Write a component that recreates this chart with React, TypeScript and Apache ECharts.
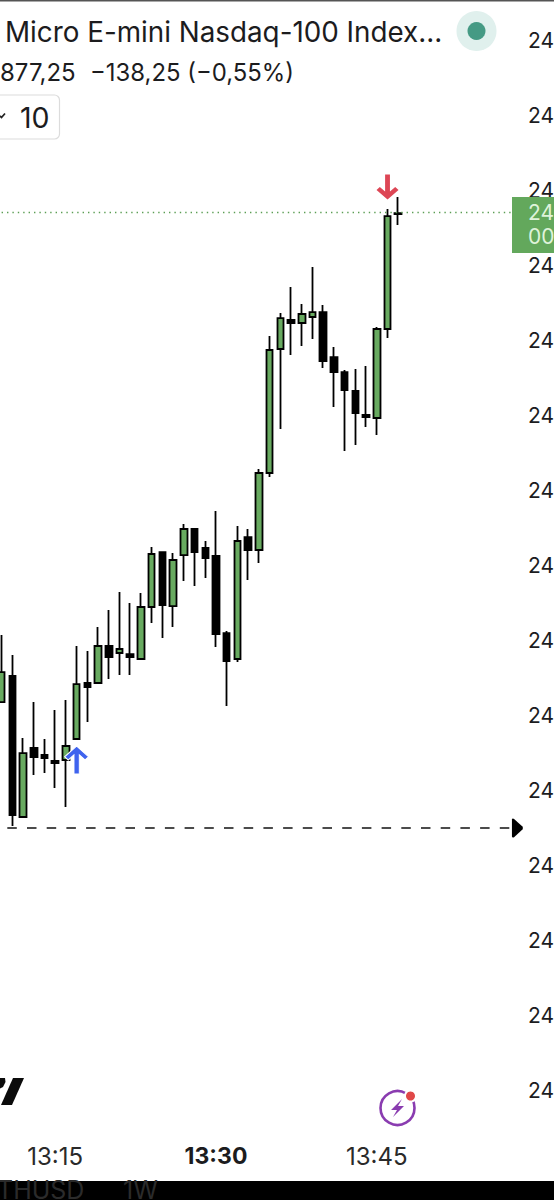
import React, { useEffect, useRef } from "react";
import * as echarts from "echarts";

const candleTimes = ["13:10","13:11","13:12","13:13","13:14","13:15","13:16","13:17","13:18","13:19","13:20","13:21","13:22","13:23","13:24","13:25","13:26","13:27","13:28","13:29","13:30","13:31","13:32","13:33","13:34","13:35","13:36","13:37","13:38","13:39","13:40","13:41","13:42","13:43","13:44","13:45","13:46","13:47"];
const futureTimes = ["13:48","13:49","13:50","13:51","13:52","13:53","13:54","13:55","13:56","13:57","13:58","13:59"];
const shownTimes = ["13:15","13:30","13:45"];
const opens = [24811.73,24815.20,24796.40,24805.60,24804.67,24803.87,24804.00,24806.80,24814.27,24814.27,24819.20,24818.27,24818.13,24817.47,24824.40,24831.73,24824.53,24831.33,24834.80,24832.27,24831.20,24820.93,24817.47,24833.73,24832.00,24842.27,24858.80,24862.67,24862.27,24863.07,24863.73,24857.73,24855.73,24853.20,24850.00,24849.60,24861.47,24876.93];
const closes = [24815.73,24796.67,24804.93,24804.40,24804.27,24803.60,24805.87,24814.13,24813.73,24819.20,24817.73,24818.80,24817.73,24824.40,24831.47,24824.67,24830.67,24834.80,24831.73,24830.93,24820.80,24817.20,24833.20,24832.00,24842.27,24858.67,24862.93,24862.27,24863.47,24863.73,24857.20,24855.73,24853.33,24850.27,24849.73,24861.47,24876.53,24876.80];
const lows = [24811.73,24795.20,24796.40,24802.00,24802.27,24800.27,24797.73,24806.80,24809.07,24814.27,24814.80,24815.33,24815.33,24817.47,24822.27,24820.27,24821.73,24827.87,24827.20,24828.27,24819.07,24811.20,24817.07,24828.00,24830.27,24841.73,24848.13,24858.00,24859.20,24860.13,24856.27,24851.07,24845.20,24846.00,24848.40,24847.33,24860.27,24875.33];
const highs = [24820.67,24818.00,24806.93,24811.73,24806.80,24810.67,24812.00,24819.20,24818.53,24821.73,24824.00,24826.40,24824.93,24826.27,24832.40,24831.73,24831.60,24835.47,24834.80,24833.20,24837.20,24821.20,24835.20,24834.80,24842.80,24860.53,24863.60,24867.07,24864.80,24869.73,24864.67,24859.07,24856.00,24856.13,24856.53,24861.73,24877.47,24879.07];
const lastPrice = 24877.07;
const stopPrice = 24794.93;
const sellSignal = { time: "13:46", price: 24880.4 };
const buySignal = { time: "13:17", price: 24804.0 };

const titleText = "Micro E-mini Nasdaq-100 Index...";
const priceText = "877,25";
const changeText = "\u2212138,25 (\u22120,55%)";
const contractsText = "10";

const FONT = "Inter, sans-serif";
const GREEN = "#68aa60";
const ARROW_UP = "path://M10 0 L20 10 L17 13 L12.2 8.2 L12.2 26 L7.8 26 L7.8 8.2 L3 13 L0 10 Z";
const HEAD = "path://M0 1 Q0 0 1 0 Q1.5 0 2 .4 L10 8 Q11 9.5 10 11 L2 18.6 Q1.5 19 1 19 Q0 19 0 18 Z";

export default function App() {
  const ref = useRef<HTMLDivElement>(null);
  useEffect(() => {
    const chart = echarts.init(ref.current!, null, { renderer: "svg" });
    const categories = [...candleTimes, ...futureTimes];
    const label = (x: number, y: number, text: string, fontSize: number, fill = "#1c1c1e") => ({
      type: "text", x, y, z: 50,
      style: { text, fill, font: `normal ${fontSize}px ${FONT}`, verticalAlign: "middle", align: "left" },
    });
    chart.setOption({
      animation: false,
      backgroundColor: "#ffffff",
      grid: { left: 1.6, right: 27.12, top: 40, bottom: 110, containLabel: false, outerBoundsMode: "none" },
      xAxis: {
        type: "category",
        data: categories,
        boundaryGap: false,
        axisLine: { show: false },
        axisTick: { show: false },
        splitLine: { show: false },
        axisLabel: {
          margin: 54,
          interval: (_: number, v: string) => shownTimes.includes(v),
          fontFamily: FONT,
          fontSize: 24,
          color: "#2a2a2a",
          formatter: (v: string) => (v === "13:30" ? `{b|${v}}` : v),
          rich: { b: { fontWeight: "bold", fontSize: 23, color: "#1c1c1e", fontFamily: FONT } },
        },
      },
      yAxis: {
        type: "value",
        position: "right",
        min: 24760,
        max: 24900,
        interval: 10,
        axisLine: { show: false },
        axisTick: { show: false },
        splitLine: { show: false },
        axisLabel: {
          margin: 1.1,
          fontFamily: FONT,
          fontSize: 21,
          color: "#1c1c1e",
          showMinLabel: true,
          showMaxLabel: true,
          formatter: (v: number) => String(v).slice(0, 2),
        },
      },
      series: [
        {
          type: "candlestick",
          clip: false,
          barWidth: 7,
          itemStyle: {
            color: GREEN,
            color0: "#000000",
            borderColor: "#000000",
            borderColor0: "#000000",
            borderWidth: 1.8,
          },
          data: candleTimes.map((_, i) => [opens[i], closes[i], lows[i], highs[i]]),
          markLine: {
            silent: true,
            symbol: "none",
            label: { show: false },
            animation: false,
            data: [
              [
                { xAxis: candleTimes[0], yAxis: lastPrice, lineStyle: { color: "#5c9e55", width: 1.4, type: [1.4, 4], opacity: 1 } },
                { xAxis: "13:58", yAxis: lastPrice },
              ],
              [
                { xAxis: candleTimes[0], yAxis: stopPrice, lineStyle: { color: "#111111", width: 1.7, type: [9.5, 10.2], dashOffset: 13.8, opacity: 1 } },
                { xAxis: "13:58", yAxis: stopPrice },
              ],
            ],
          },
          markPoint: {
            silent: true,
            animation: false,
            label: { show: false },
            data: [
              { coord: [sellSignal.time, sellSignal.price], symbol: ARROW_UP, symbolKeepAspect: false, symbolSize: [22, 25], symbolRotate: 180, itemStyle: { color: "#dd4655" } },
              { coord: [buySignal.time, buySignal.price], symbol: ARROW_UP, symbolKeepAspect: false, symbolSize: [24, 28], itemStyle: { color: "#3f63ee", borderColor: "#ffffff", borderWidth: 1 } },
              { coord: ["13:58", stopPrice], symbol: HEAD, symbolKeepAspect: false, symbolSize: [11, 19], symbolOffset: [1.3, 0], itemStyle: { color: "#000000" } },
            ],
          },
        },
      ],
      graphic: [
        { type: "rect", z: 40, shape: { x: 0, y: 0, width: 554, height: 1.5 }, style: { fill: "#555555" } },
        { ...label(5, 32, titleText, 27.8) },
        { ...label(0, 72, priceText, 24) },
        { ...label(90, 72, changeText, 23.9) },
        { type: "circle", z: 40, shape: { cx: 476.5, cy: 31, r: 20 }, style: { fill: "#e0f0ed" } },
        { type: "circle", z: 41, shape: { cx: 476.5, cy: 31, r: 9 }, style: { fill: "#459a84" } },
        { type: "rect", z: 40, shape: { x: -20, y: 95, width: 79.5, height: 44, r: 5 }, style: { fill: "#ffffff", stroke: "#dcdcdc", lineWidth: 1.2 } },
        { type: "polyline", z: 41, shape: { points: [[0, 116], [1.5, 117.5], [5, 113.5]] }, style: { fill: "none", stroke: "#222222", lineWidth: 1.8 } },
        { ...label(20, 117, contractsText, 28.5) },
        { type: "rect", z: 40, shape: { x: 512, y: 197, width: 42, height: 56 }, style: { fill: "#63a85c" } },
        { ...label(528, 212, "24", 21, "#dff3da") },
        { ...label(528, 236, "00", 21, "#dff3da") },
        { type: "polygon", z: 40, shape: { points: [[13, 1078], [24, 1078], [12, 1105], [1, 1105]] }, style: { fill: "#0b0b0b" } },
        { type: "polygon", z: 40, shape: { points: [[0, 1078], [5, 1078], [5.5, 1082], [3, 1087], [0, 1088.5]] }, style: { fill: "#0b0b0b" } },
        { type: "circle", z: 40, shape: { cx: 397.5, cy: 1108, r: 17 }, style: { fill: "#ffffff", stroke: "#8a3cb0", lineWidth: 2.6 } },
        { type: "polygon", z: 41, shape: { points: [[402, 1099], [391, 1110], [397, 1110], [393, 1117], [404, 1106], [398, 1106]] }, style: { fill: "#8a3cb0" } },
        { type: "circle", z: 42, shape: { cx: 410.5, cy: 1096, r: 6.5 }, style: { fill: "#ffffff" } },
        { type: "circle", z: 43, shape: { cx: 410.5, cy: 1096, r: 4.5 }, style: { fill: "#e04848" } },
        { type: "rect", z: 40, shape: { x: 0, y: 1181, width: 554, height: 19 }, style: { fill: "#000000" } },
        { ...label(-3, 1190, "THUSD", 25, "#2b2b2b") },
        { ...label(123, 1190, "1W", 25, "#2b2b2b") },
      ],
    });
    return () => chart.dispose();
  }, []);
  return <div ref={ref} style={{ position: "absolute", left: 0, top: 0, width: 554, height: 1200, overflow: "hidden", background: "#fff" }} />;
}
